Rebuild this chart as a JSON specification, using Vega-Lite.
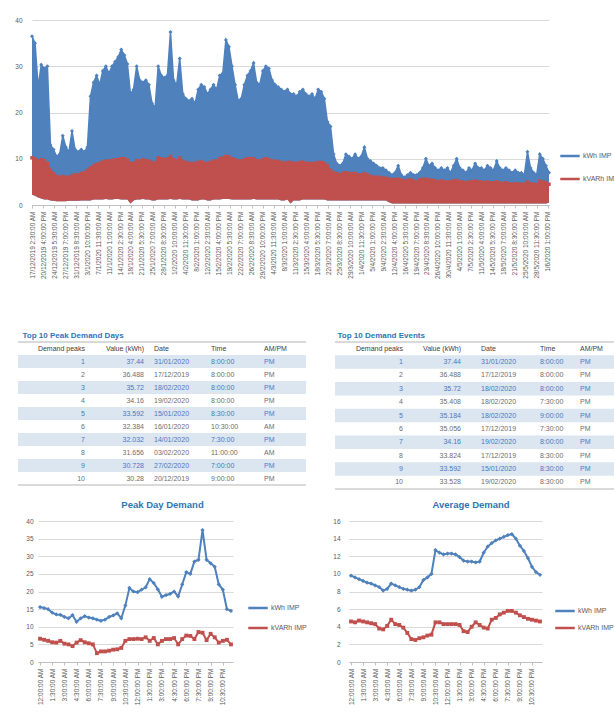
{
"$schema": "https://vega.github.io/schema/vega-lite/v6.json",
"padding": {"left": 13, "top": 17, "right": 0, "bottom": 0},
"background": "white",
"config": {"font": "Liberation Sans", "view": {"stroke": null}},
"spacing": 9,
"resolve": {"scale": {"color": "independent"}, "legend": {"color": "independent"}},
"datasets": {
"tl": [
{"r":0,"n":"Demand peaks","v":"Value (kWh)","d":"Date","t":"Time","a":"AM/PM"},
{"r":1,"n":"1","v":"37.44","d":"31/01/2020","t":"8:00:00","a":"PM"},
{"r":2,"n":"2","v":"36.488","d":"17/12/2019","t":"8:00:00","a":"PM"},
{"r":3,"n":"3","v":"35.72","d":"18/02/2020","t":"8:00:00","a":"PM"},
{"r":4,"n":"4","v":"34.16","d":"19/02/2020","t":"8:00:00","a":"PM"},
{"r":5,"n":"5","v":"33.592","d":"15/01/2020","t":"8:30:00","a":"PM"},
{"r":6,"n":"6","v":"32.384","d":"16/01/2020","t":"10:30:00","a":"AM"},
{"r":7,"n":"7","v":"32.032","d":"14/01/2020","t":"7:30:00","a":"PM"},
{"r":8,"n":"8","v":"31.656","d":"03/02/2020","t":"11:00:00","a":"AM"},
{"r":9,"n":"9","v":"30.728","d":"27/02/2020","t":"7:00:00","a":"PM"},
{"r":10,"n":"10","v":"30.28","d":"20/12/2019","t":"9:00:00","a":"PM"}],
"tr": [
{"r":0,"n":"Demand peaks","v":"Value (kWh)","d":"Date","t":"Time","a":"AM/PM"},
{"r":1,"n":"1","v":"37.44","d":"31/01/2020","t":"8:00:00","a":"PM"},
{"r":2,"n":"2","v":"36.488","d":"17/12/2019","t":"8:00:00","a":"PM"},
{"r":3,"n":"3","v":"35.72","d":"18/02/2020","t":"8:00:00","a":"PM"},
{"r":4,"n":"4","v":"35.408","d":"18/02/2020","t":"7:30:00","a":"PM"},
{"r":5,"n":"5","v":"35.184","d":"18/02/2020","t":"9:00:00","a":"PM"},
{"r":6,"n":"6","v":"35.056","d":"17/12/2019","t":"7:30:00","a":"PM"},
{"r":7,"n":"7","v":"34.16","d":"19/02/2020","t":"8:00:00","a":"PM"},
{"r":8,"n":"8","v":"33.824","d":"17/12/2019","t":"8:30:00","a":"PM"},
{"r":9,"n":"9","v":"33.592","d":"15/01/2020","t":"8:30:00","a":"PM"},
{"r":10,"n":"10","v":"33.528","d":"19/02/2020","t":"8:30:00","a":"PM"}],
"peak": [
{"t":"12:00:00 AM","kWh IMP":15.6,"kVARh IMP":6.6},
{"t":"12:30:00 AM","kWh IMP":15.3,"kVARh IMP":6.3},
{"t":"1:00:00 AM","kWh IMP":15.0,"kVARh IMP":6.0},
{"t":"1:30:00 AM","kWh IMP":14.0,"kVARh IMP":5.6},
{"t":"2:00:00 AM","kWh IMP":13.5,"kVARh IMP":5.5},
{"t":"2:30:00 AM","kWh IMP":13.4,"kVARh IMP":6.0},
{"t":"3:00:00 AM","kWh IMP":12.8,"kVARh IMP":5.2},
{"t":"3:30:00 AM","kWh IMP":12.4,"kVARh IMP":5.0},
{"t":"4:00:00 AM","kWh IMP":13.3,"kVARh IMP":4.5},
{"t":"4:30:00 AM","kWh IMP":11.4,"kVARh IMP":5.5},
{"t":"5:00:00 AM","kWh IMP":12.4,"kVARh IMP":6.2},
{"t":"5:30:00 AM","kWh IMP":13.0,"kVARh IMP":5.6},
{"t":"6:00:00 AM","kWh IMP":12.6,"kVARh IMP":5.3},
{"t":"6:30:00 AM","kWh IMP":12.4,"kVARh IMP":5.0},
{"t":"7:00:00 AM","kWh IMP":12.0,"kVARh IMP":2.5},
{"t":"7:30:00 AM","kWh IMP":11.7,"kVARh IMP":3.0},
{"t":"8:00:00 AM","kWh IMP":12.0,"kVARh IMP":3.0},
{"t":"8:30:00 AM","kWh IMP":12.8,"kVARh IMP":3.2},
{"t":"9:00:00 AM","kWh IMP":13.2,"kVARh IMP":3.5},
{"t":"9:30:00 AM","kWh IMP":13.8,"kVARh IMP":3.6},
{"t":"10:00:00 AM","kWh IMP":12.4,"kVARh IMP":4.0},
{"t":"10:30:00 AM","kWh IMP":16.0,"kVARh IMP":6.0},
{"t":"11:00:00 AM","kWh IMP":21.0,"kVARh IMP":6.5},
{"t":"11:30:00 AM","kWh IMP":20.0,"kVARh IMP":6.5},
{"t":"12:00:00 PM","kWh IMP":19.8,"kVARh IMP":6.6},
{"t":"12:30:00 PM","kWh IMP":20.5,"kVARh IMP":6.5},
{"t":"1:00:00 PM","kWh IMP":21.2,"kVARh IMP":7.0},
{"t":"1:30:00 PM","kWh IMP":23.5,"kVARh IMP":6.0},
{"t":"2:00:00 PM","kWh IMP":22.4,"kVARh IMP":6.8},
{"t":"2:30:00 PM","kWh IMP":20.6,"kVARh IMP":5.0},
{"t":"3:00:00 PM","kWh IMP":18.5,"kVARh IMP":6.0},
{"t":"3:30:00 PM","kWh IMP":19.0,"kVARh IMP":6.5},
{"t":"4:00:00 PM","kWh IMP":19.3,"kVARh IMP":6.5},
{"t":"4:30:00 PM","kWh IMP":20.0,"kVARh IMP":6.8},
{"t":"5:00:00 PM","kWh IMP":18.6,"kVARh IMP":5.0},
{"t":"5:30:00 PM","kWh IMP":22.0,"kVARh IMP":6.5},
{"t":"6:00:00 PM","kWh IMP":25.5,"kVARh IMP":7.5},
{"t":"6:30:00 PM","kWh IMP":25.0,"kVARh IMP":7.4},
{"t":"7:00:00 PM","kWh IMP":28.5,"kVARh IMP":6.5},
{"t":"7:30:00 PM","kWh IMP":29.0,"kVARh IMP":8.5},
{"t":"8:00:00 PM","kWh IMP":37.44,"kVARh IMP":8.3},
{"t":"8:30:00 PM","kWh IMP":29.0,"kVARh IMP":6.2},
{"t":"9:00:00 PM","kWh IMP":28.0,"kVARh IMP":8.0},
{"t":"9:30:00 PM","kWh IMP":27.0,"kVARh IMP":7.0},
{"t":"10:00:00 PM","kWh IMP":22.0,"kVARh IMP":5.5},
{"t":"10:30:00 PM","kWh IMP":20.5,"kVARh IMP":6.0},
{"t":"11:00:00 PM","kWh IMP":15.0,"kVARh IMP":6.3},
{"t":"11:30:00 PM","kWh IMP":14.5,"kVARh IMP":5.0}],
"avg": [
{"t":"12:00:00 AM","kWh IMP":9.8,"kVARh IMP":4.6},
{"t":"12:30:00 AM","kWh IMP":9.6,"kVARh IMP":4.5},
{"t":"1:00:00 AM","kWh IMP":9.4,"kVARh IMP":4.7},
{"t":"1:30:00 AM","kWh IMP":9.2,"kVARh IMP":4.6},
{"t":"2:00:00 AM","kWh IMP":9.0,"kVARh IMP":4.5},
{"t":"2:30:00 AM","kWh IMP":8.9,"kVARh IMP":4.4},
{"t":"3:00:00 AM","kWh IMP":8.7,"kVARh IMP":4.3},
{"t":"3:30:00 AM","kWh IMP":8.5,"kVARh IMP":3.8},
{"t":"4:00:00 AM","kWh IMP":8.1,"kVARh IMP":3.7},
{"t":"4:30:00 AM","kWh IMP":8.3,"kVARh IMP":4.1},
{"t":"5:00:00 AM","kWh IMP":8.9,"kVARh IMP":4.8},
{"t":"5:30:00 AM","kWh IMP":8.7,"kVARh IMP":4.3},
{"t":"6:00:00 AM","kWh IMP":8.5,"kVARh IMP":4.2},
{"t":"6:30:00 AM","kWh IMP":8.3,"kVARh IMP":3.9},
{"t":"7:00:00 AM","kWh IMP":8.2,"kVARh IMP":3.3},
{"t":"7:30:00 AM","kWh IMP":8.1,"kVARh IMP":2.6},
{"t":"8:00:00 AM","kWh IMP":8.2,"kVARh IMP":2.5},
{"t":"8:30:00 AM","kWh IMP":8.5,"kVARh IMP":2.7},
{"t":"9:00:00 AM","kWh IMP":9.3,"kVARh IMP":2.8},
{"t":"9:30:00 AM","kWh IMP":9.6,"kVARh IMP":3.0},
{"t":"10:00:00 AM","kWh IMP":10.0,"kVARh IMP":3.1},
{"t":"10:30:00 AM","kWh IMP":12.7,"kVARh IMP":4.5},
{"t":"11:00:00 AM","kWh IMP":12.4,"kVARh IMP":4.5},
{"t":"11:30:00 AM","kWh IMP":12.2,"kVARh IMP":4.3},
{"t":"12:00:00 PM","kWh IMP":12.3,"kVARh IMP":4.3},
{"t":"12:30:00 PM","kWh IMP":12.3,"kVARh IMP":4.3},
{"t":"1:00:00 PM","kWh IMP":12.2,"kVARh IMP":4.3},
{"t":"1:30:00 PM","kWh IMP":11.9,"kVARh IMP":4.2},
{"t":"2:00:00 PM","kWh IMP":11.5,"kVARh IMP":3.5},
{"t":"2:30:00 PM","kWh IMP":11.4,"kVARh IMP":3.4},
{"t":"3:00:00 PM","kWh IMP":11.4,"kVARh IMP":4.0},
{"t":"3:30:00 PM","kWh IMP":11.3,"kVARh IMP":4.5},
{"t":"4:00:00 PM","kWh IMP":11.4,"kVARh IMP":4.2},
{"t":"4:30:00 PM","kWh IMP":12.4,"kVARh IMP":3.9},
{"t":"5:00:00 PM","kWh IMP":13.1,"kVARh IMP":3.8},
{"t":"5:30:00 PM","kWh IMP":13.5,"kVARh IMP":4.8},
{"t":"6:00:00 PM","kWh IMP":13.8,"kVARh IMP":5.0},
{"t":"6:30:00 PM","kWh IMP":14.0,"kVARh IMP":5.4},
{"t":"7:00:00 PM","kWh IMP":14.2,"kVARh IMP":5.6},
{"t":"7:30:00 PM","kWh IMP":14.4,"kVARh IMP":5.8},
{"t":"8:00:00 PM","kWh IMP":14.5,"kVARh IMP":5.8},
{"t":"8:30:00 PM","kWh IMP":14.0,"kVARh IMP":5.6},
{"t":"9:00:00 PM","kWh IMP":13.2,"kVARh IMP":5.3},
{"t":"9:30:00 PM","kWh IMP":12.6,"kVARh IMP":5.1},
{"t":"10:00:00 PM","kWh IMP":11.8,"kVARh IMP":4.9},
{"t":"10:30:00 PM","kWh IMP":10.8,"kVARh IMP":4.8},
{"t":"11:00:00 PM","kWh IMP":10.2,"kVARh IMP":4.7},
{"t":"11:30:00 PM","kWh IMP":9.9,"kVARh IMP":4.6}]
},
"vconcat": [
{
"hconcat": [
{"width": 1, "height": 1, "data": {"values": []}, "mark": {"type": "point", "opacity": 0}, "encoding": {}},
{
"width": 517, "height": 185,
"data": {"format": {"parse": {"d": "date:'%Y-%m-%d'"}}, "values": [
{"d":"2019-12-17","b":36.5,"r":10.2,"l":2.2},{"d":"2019-12-18","b":35.0,"r":10.0,"l":2.0},{"d":"2019-12-19","b":25.5,"r":9.5,"l":1.6},{"d":"2019-12-20","b":30.3,"r":9.8,"l":1.4},{"d":"2019-12-21","b":29.5,"r":9.6,"l":1.2},{"d":"2019-12-22","b":30.0,"r":9.0,"l":1.2},{"d":"2019-12-23","b":13.0,"r":7.5,"l":1.0},{"d":"2019-12-24","b":12.0,"r":6.8,"l":0.9},{"d":"2019-12-25","b":10.5,"r":6.2,"l":0.8},{"d":"2019-12-26","b":11.0,"r":6.0,"l":0.8},
{"d":"2019-12-27","b":15.0,"r":6.2,"l":0.8},{"d":"2019-12-28","b":12.5,"r":6.0,"l":0.8},{"d":"2019-12-29","b":11.5,"r":6.0,"l":0.9},{"d":"2019-12-30","b":16.0,"r":6.3,"l":0.9},{"d":"2019-12-31","b":12.0,"r":6.5,"l":0.9},{"d":"2020-01-01","b":11.5,"r":6.5,"l":0.9},{"d":"2020-01-02","b":12.0,"r":6.8,"l":1.0},{"d":"2020-01-03","b":11.5,"r":7.0,"l":1.0},{"d":"2020-01-04","b":12.5,"r":7.5,"l":1.0},{"d":"2020-01-05","b":23.5,"r":8.0,"l":1.0},
{"d":"2020-01-06","b":26.5,"r":8.5,"l":1.2},{"d":"2020-01-07","b":28.0,"r":8.8,"l":1.2},{"d":"2020-01-08","b":26.0,"r":9.0,"l":1.2},{"d":"2020-01-09","b":29.0,"r":9.3,"l":1.2},{"d":"2020-01-10","b":30.0,"r":9.5,"l":1.3},{"d":"2020-01-11","b":28.5,"r":9.5,"l":1.2},{"d":"2020-01-12","b":30.0,"r":9.6,"l":1.2},{"d":"2020-01-13","b":31.0,"r":9.8,"l":1.3},{"d":"2020-01-14","b":32.0,"r":9.8,"l":1.3},{"d":"2020-01-15","b":33.6,"r":10.0,"l":1.2},
{"d":"2020-01-16","b":32.4,"r":10.0,"l":1.2},{"d":"2020-01-17","b":30.5,"r":9.7,"l":1.2},{"d":"2020-01-18","b":24.0,"r":9.0,"l":0.3},{"d":"2020-01-19","b":25.0,"r":9.0,"l":1.0},{"d":"2020-01-20","b":30.0,"r":9.6,"l":1.2},{"d":"2020-01-21","b":27.0,"r":9.5,"l":1.2},{"d":"2020-01-22","b":26.5,"r":9.8,"l":1.3},{"d":"2020-01-23","b":27.0,"r":9.6,"l":1.2},{"d":"2020-01-24","b":26.0,"r":9.5,"l":1.2},{"d":"2020-01-25","b":22.0,"r":9.2,"l":1.0},
{"d":"2020-01-26","b":21.0,"r":9.0,"l":1.0},{"d":"2020-01-27","b":30.0,"r":10.2,"l":1.2},{"d":"2020-01-28","b":28.0,"r":10.0,"l":1.2},{"d":"2020-01-29","b":27.5,"r":9.8,"l":1.2},{"d":"2020-01-30","b":28.0,"r":10.0,"l":1.2},{"d":"2020-01-31","b":37.4,"r":10.5,"l":1.3},{"d":"2020-02-01","b":27.0,"r":9.8,"l":1.2},{"d":"2020-02-02","b":26.0,"r":9.5,"l":1.2},{"d":"2020-02-03","b":31.7,"r":10.2,"l":1.3},{"d":"2020-02-04","b":24.0,"r":9.5,"l":1.2},
{"d":"2020-02-05","b":23.0,"r":9.2,"l":1.2},{"d":"2020-02-06","b":22.5,"r":9.0,"l":1.2},{"d":"2020-02-07","b":23.0,"r":9.0,"l":1.0},{"d":"2020-02-08","b":22.0,"r":9.0,"l":1.0},{"d":"2020-02-09","b":25.0,"r":9.2,"l":1.0},{"d":"2020-02-10","b":26.0,"r":9.4,"l":1.2},{"d":"2020-02-11","b":25.5,"r":9.0,"l":1.2},{"d":"2020-02-12","b":24.0,"r":9.0,"l":1.0},{"d":"2020-02-13","b":25.0,"r":9.2,"l":1.0},{"d":"2020-02-14","b":26.0,"r":9.5,"l":1.2},
{"d":"2020-02-15","b":25.0,"r":9.5,"l":1.2},{"d":"2020-02-16","b":28.0,"r":10.0,"l":1.2},{"d":"2020-02-17","b":28.5,"r":10.2,"l":1.3},{"d":"2020-02-18","b":35.7,"r":10.5,"l":1.3},{"d":"2020-02-19","b":34.2,"r":10.4,"l":1.3},{"d":"2020-02-20","b":30.0,"r":10.0,"l":1.2},{"d":"2020-02-21","b":26.0,"r":9.8,"l":1.2},{"d":"2020-02-22","b":22.5,"r":9.5,"l":1.2},{"d":"2020-02-23","b":23.0,"r":9.5,"l":1.2},{"d":"2020-02-24","b":26.0,"r":9.8,"l":1.2},
{"d":"2020-02-25","b":28.0,"r":10.0,"l":1.2},{"d":"2020-02-26","b":29.0,"r":10.0,"l":1.2},{"d":"2020-02-27","b":30.7,"r":10.0,"l":1.3},{"d":"2020-02-28","b":26.5,"r":9.6,"l":1.2},{"d":"2020-02-29","b":26.0,"r":9.5,"l":1.2},{"d":"2020-03-01","b":29.0,"r":9.8,"l":1.2},{"d":"2020-03-02","b":30.0,"r":10.0,"l":1.2},{"d":"2020-03-03","b":29.5,"r":9.8,"l":1.2},{"d":"2020-03-04","b":27.0,"r":9.5,"l":1.2},{"d":"2020-03-05","b":26.0,"r":9.5,"l":1.2},
{"d":"2020-03-06","b":25.5,"r":9.4,"l":1.2},{"d":"2020-03-07","b":25.0,"r":9.2,"l":1.0},{"d":"2020-03-08","b":24.5,"r":9.0,"l":1.0},{"d":"2020-03-09","b":25.0,"r":9.2,"l":1.2},{"d":"2020-03-10","b":24.0,"r":9.2,"l":0.3},{"d":"2020-03-11","b":24.0,"r":9.0,"l":1.0},{"d":"2020-03-12","b":23.5,"r":9.0,"l":1.0},{"d":"2020-03-13","b":24.5,"r":9.2,"l":1.0},{"d":"2020-03-14","b":25.0,"r":9.3,"l":1.2},{"d":"2020-03-15","b":24.0,"r":9.0,"l":1.2},
{"d":"2020-03-16","b":23.5,"r":9.0,"l":1.2},{"d":"2020-03-17","b":24.0,"r":9.0,"l":1.2},{"d":"2020-03-18","b":23.0,"r":9.0,"l":1.2},{"d":"2020-03-19","b":25.0,"r":9.2,"l":1.2},{"d":"2020-03-20","b":24.5,"r":9.2,"l":1.2},{"d":"2020-03-21","b":23.0,"r":9.0,"l":1.2},{"d":"2020-03-22","b":18.0,"r":8.5,"l":1.0},{"d":"2020-03-23","b":17.0,"r":7.5,"l":1.0},{"d":"2020-03-24","b":11.0,"r":7.0,"l":1.0},{"d":"2020-03-25","b":9.0,"r":6.8,"l":1.0},
{"d":"2020-03-26","b":8.5,"r":6.5,"l":1.0},{"d":"2020-03-27","b":9.0,"r":6.8,"l":1.0},{"d":"2020-03-28","b":11.0,"r":7.0,"l":1.0},{"d":"2020-03-29","b":10.5,"r":6.8,"l":1.0},{"d":"2020-03-30","b":10.0,"r":6.8,"l":1.0},{"d":"2020-03-31","b":11.0,"r":6.8,"l":1.0},{"d":"2020-04-01","b":10.0,"r":6.5,"l":1.0},{"d":"2020-04-02","b":10.5,"r":6.5,"l":1.0},{"d":"2020-04-03","b":12.5,"r":6.8,"l":1.0},{"d":"2020-04-04","b":10.0,"r":6.5,"l":1.0},
{"d":"2020-04-05","b":9.5,"r":6.2,"l":1.0},{"d":"2020-04-06","b":9.0,"r":6.0,"l":1.0},{"d":"2020-04-07","b":8.5,"r":6.0,"l":1.0},{"d":"2020-04-08","b":8.0,"r":6.0,"l":1.0},{"d":"2020-04-09","b":8.0,"r":5.8,"l":1.0},{"d":"2020-04-10","b":7.5,"r":5.8,"l":1.0},{"d":"2020-04-11","b":7.0,"r":5.6,"l":0.6},{"d":"2020-04-12","b":6.5,"r":5.5,"l":0.3},{"d":"2020-04-13","b":7.0,"r":5.5,"l":0.3},{"d":"2020-04-14","b":8.5,"r":5.6,"l":0.3},
{"d":"2020-04-15","b":6.5,"r":5.4,"l":0.3},{"d":"2020-04-16","b":6.0,"r":5.2,"l":0.3},{"d":"2020-04-17","b":6.5,"r":5.3,"l":0.3},{"d":"2020-04-18","b":7.0,"r":5.5,"l":0.3},{"d":"2020-04-19","b":6.5,"r":5.2,"l":0.3},{"d":"2020-04-20","b":6.5,"r":5.0,"l":0.3},{"d":"2020-04-21","b":7.0,"r":5.5,"l":0.3},{"d":"2020-04-22","b":8.0,"r":5.5,"l":0.3},{"d":"2020-04-23","b":10.0,"r":5.6,"l":0.3},{"d":"2020-04-24","b":8.5,"r":5.4,"l":0.3},
{"d":"2020-04-25","b":9.0,"r":5.4,"l":0.3},{"d":"2020-04-26","b":8.0,"r":5.2,"l":0.3},{"d":"2020-04-27","b":7.5,"r":5.0,"l":0.3},{"d":"2020-04-28","b":8.0,"r":5.2,"l":0.3},{"d":"2020-04-29","b":7.5,"r":5.0,"l":0.3},{"d":"2020-04-30","b":8.0,"r":5.0,"l":0.3},{"d":"2020-05-01","b":7.0,"r":5.0,"l":0.3},{"d":"2020-05-02","b":8.5,"r":5.2,"l":0.3},{"d":"2020-05-03","b":10.0,"r":5.3,"l":0.3},{"d":"2020-05-04","b":8.0,"r":5.0,"l":0.3},
{"d":"2020-05-05","b":7.5,"r":5.0,"l":0.3},{"d":"2020-05-06","b":7.0,"r":4.8,"l":0.3},{"d":"2020-05-07","b":8.0,"r":5.0,"l":0.3},{"d":"2020-05-08","b":7.5,"r":5.0,"l":0.3},{"d":"2020-05-09","b":9.0,"r":5.2,"l":0.3},{"d":"2020-05-10","b":8.0,"r":5.0,"l":0.3},{"d":"2020-05-11","b":8.0,"r":5.0,"l":0.3},{"d":"2020-05-12","b":7.5,"r":4.8,"l":0.3},{"d":"2020-05-13","b":8.5,"r":5.0,"l":0.3},{"d":"2020-05-14","b":8.0,"r":4.8,"l":0.3},
{"d":"2020-05-15","b":7.5,"r":4.8,"l":0.3},{"d":"2020-05-16","b":9.5,"r":5.0,"l":0.3},{"d":"2020-05-17","b":8.0,"r":4.8,"l":0.3},{"d":"2020-05-18","b":7.5,"r":4.6,"l":0.3},{"d":"2020-05-19","b":8.0,"r":4.8,"l":0.3},{"d":"2020-05-20","b":7.5,"r":4.6,"l":0.3},{"d":"2020-05-21","b":7.0,"r":4.5,"l":0.3},{"d":"2020-05-22","b":7.5,"r":4.6,"l":0.3},{"d":"2020-05-23","b":7.0,"r":4.5,"l":0.3},{"d":"2020-05-24","b":7.0,"r":4.5,"l":0.3},
{"d":"2020-05-25","b":6.5,"r":4.5,"l":0.3},{"d":"2020-05-26","b":11.5,"r":5.0,"l":0.3},{"d":"2020-05-27","b":8.0,"r":4.6,"l":0.3},{"d":"2020-05-28","b":7.0,"r":4.5,"l":0.3},{"d":"2020-05-29","b":6.5,"r":4.4,"l":0.3},{"d":"2020-05-30","b":11.0,"r":5.2,"l":0.3},{"d":"2020-05-31","b":10.0,"r":5.0,"l":0.3},{"d":"2020-06-01","b":8.5,"r":4.8,"l":0.3},{"d":"2020-06-02","b":7.0,"r":4.5,"l":0.5}
]},
"encoding": {
"x": {"field": "d", "type": "temporal",
"scale": {"domain": [{"year":2019,"month":12,"date":17},{"year":2020,"month":6,"date":2}]},
"axis": {"title": null, "grid": false, "labelAngle": -90, "labelAlign": "right", "labelBaseline": "middle", "labelFontSize": 6.5, "labelColor": "#595959", "labelPadding": 3, "labelOverlap": false, "labelFlush": false, "domainColor": "#bfbfbf", "tickColor": "#bfbfbf", "tickSize": 3, "minExtent": 117, "maxExtent": 117,
"labelExpr": "timeFormat(datum.value, '%-d/%-m/%Y %-I:%M:%S %p')",
"values": [
{"year":2019,"month":12,"date":17,"hours":2,"minutes":30},{"year":2019,"month":12,"date":20,"hours":16},{"year":2019,"month":12,"date":24,"hours":5,"minutes":30},{"year":2019,"month":12,"date":27,"hours":19},{"year":2019,"month":12,"date":31,"hours":8,"minutes":30},{"year":2020,"month":1,"date":3,"hours":22},{"year":2020,"month":1,"date":7,"hours":11,"minutes":30},{"year":2020,"month":1,"date":11,"hours":1},{"year":2020,"month":1,"date":14,"hours":14,"minutes":30},{"year":2020,"month":1,"date":18,"hours":4},{"year":2020,"month":1,"date":21,"hours":17,"minutes":30},{"year":2020,"month":1,"date":25,"hours":7},{"year":2020,"month":1,"date":28,"hours":20,"minutes":30},{"year":2020,"month":2,"date":1,"hours":10},{"year":2020,"month":2,"date":4,"hours":23,"minutes":30},{"year":2020,"month":2,"date":8,"hours":13},{"year":2020,"month":2,"date":12,"hours":2,"minutes":30},{"year":2020,"month":2,"date":15,"hours":16},{"year":2020,"month":2,"date":19,"hours":5,"minutes":30},{"year":2020,"month":2,"date":22,"hours":19},{"year":2020,"month":2,"date":26,"hours":8,"minutes":30},{"year":2020,"month":2,"date":29,"hours":22},{"year":2020,"month":3,"date":4,"hours":11,"minutes":30},{"year":2020,"month":3,"date":8,"hours":1},{"year":2020,"month":3,"date":11,"hours":14,"minutes":30},{"year":2020,"month":3,"date":15,"hours":4},{"year":2020,"month":3,"date":18,"hours":17,"minutes":30},{"year":2020,"month":3,"date":22,"hours":7},{"year":2020,"month":3,"date":25,"hours":20,"minutes":30},{"year":2020,"month":3,"date":29,"hours":10},{"year":2020,"month":4,"date":1,"hours":23,"minutes":30},{"year":2020,"month":4,"date":5,"hours":13},{"year":2020,"month":4,"date":9,"hours":2,"minutes":30},{"year":2020,"month":4,"date":12,"hours":16},{"year":2020,"month":4,"date":16,"hours":5,"minutes":30},{"year":2020,"month":4,"date":19,"hours":19},{"year":2020,"month":4,"date":23,"hours":8,"minutes":30},{"year":2020,"month":4,"date":26,"hours":22},{"year":2020,"month":4,"date":30,"hours":11,"minutes":30},{"year":2020,"month":5,"date":4,"hours":1},{"year":2020,"month":5,"date":7,"hours":14,"minutes":30},{"year":2020,"month":5,"date":11,"hours":4},{"year":2020,"month":5,"date":14,"hours":17,"minutes":30},{"year":2020,"month":5,"date":18,"hours":7},{"year":2020,"month":5,"date":21,"hours":20,"minutes":30},{"year":2020,"month":5,"date":25,"hours":10},{"year":2020,"month":5,"date":28,"hours":23,"minutes":30},{"year":2020,"month":6,"date":1,"hours":13}
]}}
},
"layer": [
{"mark": {"type": "area", "opacity": 1, "color": "#4f81bd"},
"encoding": {
"y": {"field": "b", "type": "quantitative", "scale": {"domain": [0, 40]},
"axis": {"title": null, "values": [0,5,10,15,20,25,30,35,40], "gridColor": "#d9d9d9", "domain": false, "ticks": false, "labelFontSize": 6.5, "labelColor": "#595959", "labelPadding": 10}},
"y2": {"field": "l"}
}},
{"mark": {"type": "line", "strokeWidth": 1.5},
"encoding": {"y": {"field": "b", "type": "quantitative"},
"color": {"datum": "kWh IMP", "scale": {"domain": ["kWh IMP", "kVARh IMP"], "range": ["#4f81bd", "#c0504d"]},
"legend": {"orient": "none", "legendX": 527, "legendY": 125, "title": null, "labelFontSize": 7, "labelColor": "#595959", "symbolType": "stroke", "symbolSize": 380, "symbolStrokeWidth": 2.5, "labelOffset": 2, "rowPadding": 7}}}},
{"mark": {"type": "point", "shape": "diamond", "filled": true, "opacity": 1, "size": 16, "color": "#4f81bd"},
"encoding": {"y": {"field": "b", "type": "quantitative"}}},
{"mark": {"type": "area", "opacity": 1, "color": "#c0504d"},
"encoding": {
"y": {"field": "r", "type": "quantitative"},
"y2": {"field": "l"}
}},
{"mark": {"type": "line", "strokeWidth": 1.5},
"encoding": {"y": {"field": "r", "type": "quantitative"}, "color": {"datum": "kVARh IMP"}}},
{"mark": {"type": "point", "shape": "square", "filled": true, "opacity": 1, "size": 12, "color": "#c0504d"},
"encoding": {"y": {"field": "r", "type": "quantitative"}}}
]
}
],
"spacing": 0,
"resolve": {"scale": {"color": "independent"}, "legend": {"color": "independent"}}
},
{
"hconcat": [
{"width": 1, "height": 1, "data": {"values": []}, "mark": {"type": "point", "opacity": 0}, "encoding": {}},
{
"hconcat": [
{
"width": 288, "height": 143,
"title": {"text": "Top 10 Peak Demand Days", "anchor": "start", "fontSize": 8, "fontWeight": "bold", "color": "#2f75b5", "offset": 2, "dx": 5},
"data": {"name": "tl"},
"encoding": {"y": {"field": "r", "type": "ordinal", "scale": {"domain": [0,1,2,3,4,5,6,7,8,9,10], "paddingInner": 0, "paddingOuter": 0}, "axis": null}},
"resolve": {"scale": {"x": "independent"}},
"layer": [
{"transform": [{"filter": "datum.r % 2 == 1"}], "mark": {"type": "rect", "color": "#dce6f1"}},
{"transform": [{"filter": "datum.r == 0"}], "mark": {"type": "rule", "color": "#b4b4b4", "strokeWidth": 1}, "encoding": {"y": {"field": "r", "type": "ordinal", "bandPosition": 0}}},
{"transform": [{"filter": "datum.r == 10"}], "mark": {"type": "rule", "color": "#b4b4b4", "strokeWidth": 1}, "encoding": {"y": {"field": "r", "type": "ordinal", "bandPosition": 1}}},
{"transform": [{"fold": ["n", "v"], "as": ["c", "s"]}], "mark": {"type": "text", "align": "right", "fontSize": 7},
"encoding": {"x": {"field": "c", "type": "ordinal", "scale": {"type": "point", "domain": ["n", "v"], "range": [67, 126], "padding": 0}, "axis": null}, "text": {"field": "s"},
"color": {"condition": [{"test": "datum.r == 0", "value": "#404040"}, {"test": "datum.r % 2 == 1", "value": "#4a78c0"}], "value": "#6e6e6e"}}},
{"transform": [{"fold": ["d", "t"], "as": ["c", "s"]}], "mark": {"type": "text", "align": "left", "fontSize": 7},
"encoding": {"x": {"field": "c", "type": "ordinal", "scale": {"type": "point", "domain": ["d", "t"], "range": [136, 193], "padding": 0}, "axis": null}, "text": {"field": "s"},
"color": {"condition": [{"test": "datum.r == 0", "value": "#404040"}, {"test": "datum.r % 2 == 1", "value": "#4a78c0"}], "value": "#6e6e6e"}}},
{"transform": [{"fold": ["a"], "as": ["c", "s"]}], "mark": {"type": "text", "align": "left", "fontSize": 7},
"encoding": {"x": {"field": "c", "type": "ordinal", "scale": {"type": "point", "domain": ["a"], "range": [246, 246], "padding": 0}, "axis": null}, "text": {"field": "s"},
"color": {"condition": [{"test": "datum.r == 0", "value": "#404040"}, {"test": "datum.r % 2 == 1", "value": "#4a78c0"}], "value": "#6e6e6e"}}}
]
},
{
"width": 282, "height": 147,
"title": {"text": "Top 10 Demand Events", "anchor": "start", "fontSize": 8, "fontWeight": "bold", "color": "#2f75b5", "offset": 2, "dx": 3},
"data": {"name": "tr"},
"encoding": {"y": {"field": "r", "type": "ordinal", "scale": {"domain": [0,1,2,3,4,5,6,7,8,9,10], "paddingInner": 0, "paddingOuter": 0}, "axis": null}},
"resolve": {"scale": {"x": "independent"}},
"layer": [
{"transform": [{"filter": "datum.r % 2 == 1"}], "mark": {"type": "rect", "color": "#dce6f1"}},
{"transform": [{"filter": "datum.r == 0"}], "mark": {"type": "rule", "color": "#b4b4b4", "strokeWidth": 1}, "encoding": {"y": {"field": "r", "type": "ordinal", "bandPosition": 0}}},
{"transform": [{"filter": "datum.r == 10"}], "mark": {"type": "rule", "color": "#b4b4b4", "strokeWidth": 1}, "encoding": {"y": {"field": "r", "type": "ordinal", "bandPosition": 1}}},
{"transform": [{"fold": ["n", "v"], "as": ["c", "s"]}], "mark": {"type": "text", "align": "right", "fontSize": 7},
"encoding": {"x": {"field": "c", "type": "ordinal", "scale": {"type": "point", "domain": ["n", "v"], "range": [68, 126], "padding": 0}, "axis": null}, "text": {"field": "s"},
"color": {"condition": [{"test": "datum.r == 0", "value": "#404040"}, {"test": "datum.r % 2 == 1", "value": "#4a78c0"}], "value": "#6e6e6e"}}},
{"transform": [{"fold": ["d", "t"], "as": ["c", "s"]}], "mark": {"type": "text", "align": "left", "fontSize": 7},
"encoding": {"x": {"field": "c", "type": "ordinal", "scale": {"type": "point", "domain": ["d", "t"], "range": [146, 205], "padding": 0}, "axis": null}, "text": {"field": "s"},
"color": {"condition": [{"test": "datum.r == 0", "value": "#404040"}, {"test": "datum.r % 2 == 1", "value": "#4a78c0"}], "value": "#6e6e6e"}}},
{"transform": [{"fold": ["a"], "as": ["c", "s"]}], "mark": {"type": "text", "align": "left", "fontSize": 7},
"encoding": {"x": {"field": "c", "type": "ordinal", "scale": {"type": "point", "domain": ["a"], "range": [245, 245], "padding": 0}, "axis": null}, "text": {"field": "s"},
"color": {"condition": [{"test": "datum.r == 0", "value": "#404040"}, {"test": "datum.r % 2 == 1", "value": "#4a78c0"}], "value": "#6e6e6e"}}}
]
}
],
"spacing": 27
}
],
"spacing": 3
},
{
"hconcat": [
{"width": 1, "height": 1, "data": {"values": []}, "mark": {"type": "point", "opacity": 0}, "encoding": {}},
{
"hconcat": [
{
"width": 195, "height": 141,
"title": {"text": "Peak Day Demand", "fontSize": 9.5, "fontWeight": "bold", "color": "#2f75b5", "frame": "bounds", "offset": 9},
"data": {"name": "peak"},
"transform": [{"fold": ["kWh IMP", "kVARh IMP"], "as": ["s", "v"]}],
"encoding": {
"x": {"field": "t", "type": "ordinal", "sort": null, "scale": {"type": "point", "padding": 0.5},
"axis": {"title": null, "values": ["12:00:00 AM","1:30:00 AM","3:00:00 AM","4:30:00 AM","6:00:00 AM","7:30:00 AM","9:00:00 AM","10:30:00 AM","12:00:00 PM","1:30:00 PM","3:00:00 PM","4:30:00 PM","6:00:00 PM","7:30:00 PM","9:00:00 PM","10:30:00 PM"], "labelAngle": -90, "labelAlign": "right", "labelBaseline": "middle", "labelFontSize": 6.5, "labelColor": "#595959", "labelPadding": 3, "domainColor": "#bfbfbf", "tickColor": "#bfbfbf", "tickSize": 3}},
"y": {"field": "v", "type": "quantitative", "scale": {"domain": [0, 40]},
"axis": {"title": null, "values": [0,5,10,15,20,25,30,35,40], "gridColor": "#d9d9d9", "domain": false, "ticks": false, "labelFontSize": 6.5, "labelColor": "#595959", "labelPadding": 5, "minExtent": 20, "maxExtent": 20}}
},
"layer": [
{"mark": {"type": "line", "strokeWidth": 2},
"encoding": {"color": {"field": "s", "type": "nominal", "scale": {"domain": ["kWh IMP", "kVARh IMP"], "range": ["#4f81bd", "#c0504d"]},
"legend": {"orient": "none", "legendX": 209, "legendY": 76, "title": null, "labelFontSize": 7, "labelColor": "#595959", "symbolType": "stroke", "symbolSize": 380, "symbolStrokeWidth": 2.5, "labelOffset": 2, "rowPadding": 4}}}},
{"transform": [{"filter": "datum.s == 'kWh IMP'"}], "mark": {"type": "point", "shape": "diamond", "filled": true, "opacity": 1, "size": 18, "color": "#4f81bd"}},
{"transform": [{"filter": "datum.s == 'kVARh IMP'"}], "mark": {"type": "point", "shape": "square", "filled": true, "opacity": 1, "size": 15, "color": "#c0504d"}}
]
},
{
"width": 193, "height": 141,
"title": {"text": "Average Demand", "fontSize": 9.5, "fontWeight": "bold", "color": "#2f75b5", "frame": "bounds", "offset": 9},
"data": {"name": "avg"},
"transform": [{"fold": ["kWh IMP", "kVARh IMP"], "as": ["s", "v"]}],
"encoding": {
"x": {"field": "t", "type": "ordinal", "sort": null, "scale": {"type": "point", "padding": 0.5},
"axis": {"title": null, "values": ["12:00:00 AM","1:30:00 AM","3:00:00 AM","4:30:00 AM","6:00:00 AM","7:30:00 AM","9:00:00 AM","10:30:00 AM","12:00:00 PM","1:30:00 PM","3:00:00 PM","4:30:00 PM","6:00:00 PM","7:30:00 PM","9:00:00 PM","10:30:00 PM"], "labelAngle": -90, "labelAlign": "right", "labelBaseline": "middle", "labelFontSize": 6.5, "labelColor": "#595959", "labelPadding": 3, "domainColor": "#bfbfbf", "tickColor": "#bfbfbf", "tickSize": 3}},
"y": {"field": "v", "type": "quantitative", "scale": {"domain": [0, 16]},
"axis": {"title": null, "values": [0,2,4,6,8,10,12,14,16], "gridColor": "#d9d9d9", "domain": false, "ticks": false, "labelFontSize": 6.5, "labelColor": "#595959", "labelPadding": 9, "minExtent": 21, "maxExtent": 21}}
},
"layer": [
{"mark": {"type": "line", "strokeWidth": 2},
"encoding": {"color": {"field": "s", "type": "nominal", "scale": {"domain": ["kWh IMP", "kVARh IMP"], "range": ["#4f81bd", "#c0504d"]},
"legend": {"orient": "none", "legendX": 205, "legendY": 79, "title": null, "labelFontSize": 7, "labelColor": "#595959", "symbolType": "stroke", "symbolSize": 380, "symbolStrokeWidth": 2.5, "labelOffset": 2, "rowPadding": 1}}}},
{"transform": [{"filter": "datum.s == 'kWh IMP'"}], "mark": {"type": "point", "shape": "diamond", "filled": true, "opacity": 1, "size": 18, "color": "#4f81bd"}},
{"transform": [{"filter": "datum.s == 'kVARh IMP'"}], "mark": {"type": "point", "shape": "square", "filled": true, "opacity": 1, "size": 15, "color": "#c0504d"}}
]
}
],
"spacing": 21,
"resolve": {"scale": {"color": "independent"}, "legend": {"color": "independent"}}
}
],
"spacing": 4,
"resolve": {"scale": {"color": "independent"}, "legend": {"color": "independent"}}
}
]
}
